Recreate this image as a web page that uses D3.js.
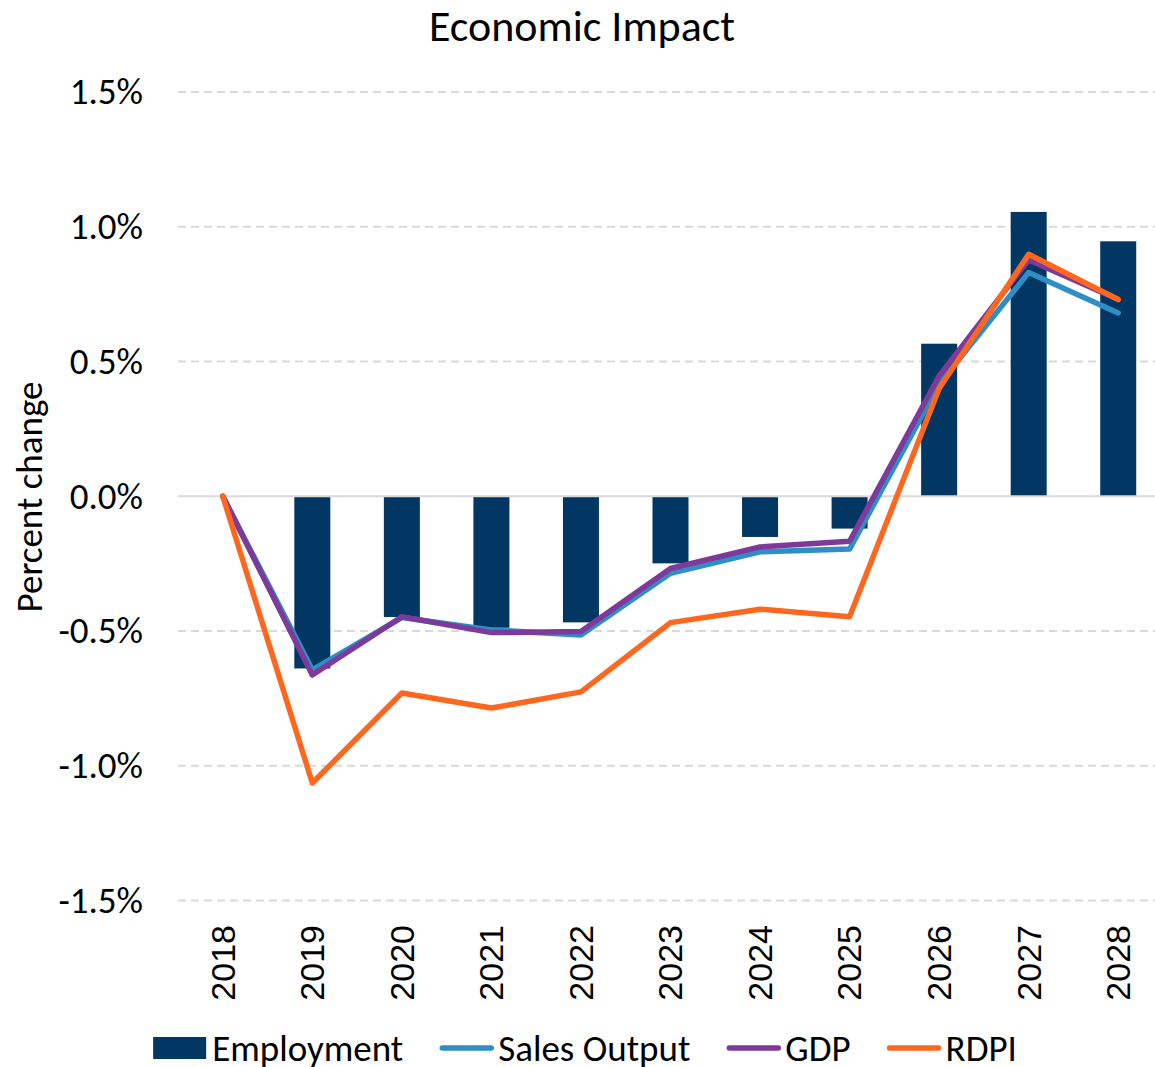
<!DOCTYPE html>
<html>
<head>
<meta charset="utf-8">
<script src="https://d3js.org/d3.v7.min.js"></script>
<style>
  body { margin: 0; background: #fff; }
  svg { display: block; }
</style>
</head>
<body>
<div id="container"></div>
<script>
/* DATA */
const years = ["2018", "2019", "2020", "2021", "2022", "2023", "2024", "2025", "2026", "2027", "2028"];
const employment = [0, -0.639, -0.448, -0.488, -0.468, -0.249, -0.151, -0.12, 0.566, 1.055, 0.946];
const salesOutput = [0, -0.644, -0.45, -0.496, -0.515, -0.286, -0.206, -0.196, 0.416, 0.83, 0.68];
const gdp = [0, -0.663, -0.447, -0.506, -0.502, -0.268, -0.188, -0.167, 0.446, 0.877, 0.73];
const rdpi = [0, -1.064, -0.73, -0.786, -0.726, -0.469, -0.419, -0.447, 0.40, 0.898, 0.73];
const yTicks = [-1.5, -1.0, -0.5, 0, 0.5, 1.0, 1.5];

/* CONSTANTS */
const width = 1155,
  height = 1067,
  margin = { top: 92, bottom: 167, left: 178, right: -8 };

const bodyFont = "Carlito, Calibri, 'Open Sans', sans-serif";

const lineSeries = [
  { name: "Sales Output", values: salesOutput, color: "#2e8fc6" },
  { name: "GDP", values: gdp, color: "#7e3a9a" },
  { name: "RDPI", values: rdpi, color: "#ff671f" }
];
const barColor = "#023763";

const svg = d3.select("#container")
  .append("svg")
  .attr("width", width)
  .attr("height", height);

// scales
const xScale = d3.scaleBand()
  .domain(years)
  .range([margin.left, width - margin.right])
  .padding(0);

const yScale = d3.scaleLinear()
  .domain([-1.5, 1.5])
  .range([900.5, margin.top]);

// title
svg.append("text")
  .attr("x", 582)
  .attr("y", 41)
  .attr("text-anchor", "middle")
  .attr("font-family", bodyFont)
  .attr("font-size", 44)
  .attr("fill", "#000")
  .text("Economic Impact");

// gridlines
svg.append("g")
  .selectAll("line")
  .data(yTicks.filter(d => d !== 0))
  .join("line")
  .attr("x1", margin.left)
  .attr("x2", 1160)
  .attr("y1", d => yScale(d))
  .attr("y2", d => yScale(d))
  .attr("stroke", "#d9d9d9")
  .attr("stroke-width", 2)
  .attr("stroke-dasharray", "8,5");

// y axis labels (plain hyphen for minus, like the original)
const yAxis = d3.axisLeft(yScale)
  .tickValues(yTicks)
  .tickFormat(d => d3.format(".1f")(d).replace("\u2212", "-") + "%")
  .tickSize(0)
  .tickPadding(0);

svg.append("g")
  .attr("transform", "translate(143,0)")
  .call(yAxis)
  .call(g => g.select(".domain").remove())
  .call(g => g.selectAll("text")
    .attr("font-family", bodyFont)
    .attr("font-size", 37)
    .attr("fill", "#000"));

// y title
svg.append("text")
  .attr("transform", "translate(42,497) rotate(-90)")
  .attr("text-anchor", "middle")
  .attr("font-family", bodyFont)
  .attr("font-size", 37)
  .attr("fill", "#000")
  .text("Percent change");

// bars
const barW = 36;
svg.append("g")
  .selectAll("rect")
  .data(years.map((y, i) => ({ year: y, value: employment[i] })))
  .join("rect")
  .attr("x", d => xScale(d.year) + xScale.bandwidth() / 2 - barW / 2)
  .attr("width", barW)
  .attr("y", d => yScale(Math.max(0, d.value)))
  .attr("height", d => Math.abs(yScale(d.value) - yScale(0)))
  .attr("fill", barColor);

// zero line
svg.append("line")
  .attr("x1", margin.left)
  .attr("x2", 1160)
  .attr("y1", yScale(0))
  .attr("y2", yScale(0))
  .attr("stroke", "#d9d9d9")
  .attr("stroke-width", 2);

// lines
const line = d3.line()
  .x((d, i) => xScale(years[i]) + xScale.bandwidth() / 2)
  .y(d => yScale(d));

svg.append("g")
  .selectAll("path")
  .data(lineSeries)
  .join("path")
  .attr("d", d => line(d.values))
  .attr("fill", "none")
  .attr("stroke", d => d.color)
  .attr("stroke-width", 5.5)
  .attr("stroke-linejoin", "round")
  .attr("stroke-linecap", "round");

// x axis labels
const xAxis = d3.axisBottom(xScale).tickSize(0).tickPadding(0);
svg.append("g")
  .attr("transform", "translate(0,925)")
  .call(xAxis)
  .call(g => g.select(".domain").remove())
  .call(g => g.selectAll("text")
    .attr("transform", "rotate(-90)")
    .attr("text-anchor", "end")
    .attr("x", 0)
    .attr("y", 0)
    .attr("dy", "0.35em")
    .attr("font-family", "'Liberation Sans', Arial, sans-serif")
    .attr("font-size", 34)
    .attr("fill", "#000"));

// legend
const legendItems = [{ name: "Employment", type: "bar", color: barColor }]
  .concat(lineSeries.map(d => ({ name: d.name, type: "line", color: d.color })));

const legend = svg.append("g");
let lx = 0;
legendItems.forEach(item => {
  const g = legend.append("g").attr("transform", `translate(${lx},0)`);
  if (item.type === "bar") {
    g.append("rect")
      .attr("x", 0).attr("y", -11)
      .attr("width", 53).attr("height", 22)
      .attr("fill", item.color);
  } else {
    g.append("line")
      .attr("x1", 3).attr("x2", 52)
      .attr("y1", 0).attr("y2", 0)
      .attr("stroke", item.color)
      .attr("stroke-width", 5.5)
      .attr("stroke-linecap", "round");
  }
  const t = g.append("text")
    .attr("x", 59)
    .attr("dy", "0.35em")
    .attr("font-family", bodyFont)
    .attr("font-size", 37)
    .attr("fill", "#000")
    .text(item.name);
  lx += 59 + t.node().getComputedTextLength() + 36;
});
const legendW = lx - 36;
legend.attr("transform", `translate(${585 - legendW / 2},1048)`);
</script>
</body>
</html>
